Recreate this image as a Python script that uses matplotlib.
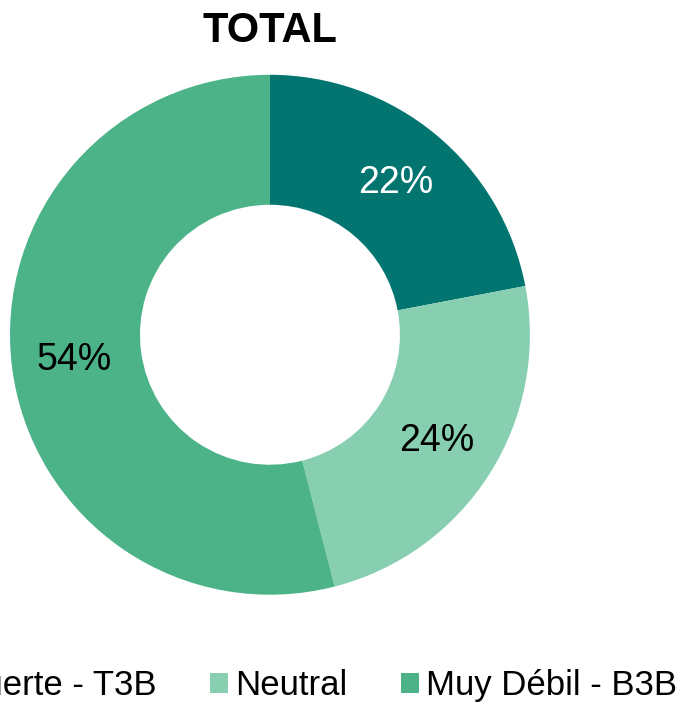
import matplotlib
matplotlib.use("Agg")
import matplotlib.pyplot as plt

plt.rcParams['font.family'] = ['Liberation Sans', 'DejaVu Sans']

# data
categories = ["Muy Fuerte - T3B", "Neutral", "Muy Débil - B3B"]
values = [22, 24, 54]
colors = ["#037571", "#88cfb1", "#4cb389"]
text_colors = ["white", "black", "black"]

fig = plt.figure(figsize=(6.85, 7.04), dpi=100)
ax = fig.add_axes([0.0146, 0.155, 0.759, 0.739])

wedges, texts, autotexts = ax.pie(
    values, colors=colors, startangle=90, counterclock=False,
    radius=1.0, wedgeprops=dict(width=0.5, edgecolor='none'),
    autopct='%1.0f%%', pctdistance=0.76,
    textprops=dict(fontsize=27))
for t, c in zip(autotexts, text_colors):
    t.set_color(c)

ax.set_xlim(-1, 1)
ax.set_ylim(-1, 1)
ax.set_aspect('equal')

fig.text(0.394, 0.956, "TOTAL", ha='center', va='center',
         fontsize=30, fontweight='bold')

fig.legend(wedges, categories, ncol=3, loc='center right',
           bbox_to_anchor=(677 / 685, 0.026), frameon=False,
           fontsize=25, handlelength=0.52, handleheight=0.52,
           handletextpad=0.2, columnspacing=1.55,
           borderpad=0, borderaxespad=0)

fig.savefig('out.png', dpi=100)
